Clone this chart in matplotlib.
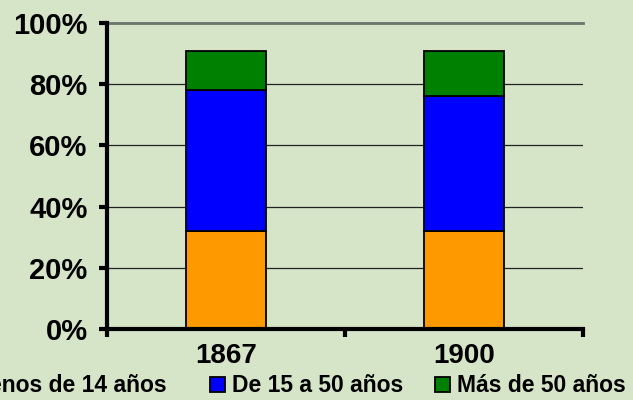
import matplotlib
matplotlib.use("Agg")
import matplotlib.pyplot as plt
from matplotlib.patches import Patch
import numpy as np

categories = ["1867", "1900"]
series_names = ["Menos de 14 años", "De 15 a 50 años", "Más de 50 años"]
menos_14 = [32, 32]
de_15_50 = [46, 44]
mas_50 = [13, 15]
y_ticks = [0, 20, 40, 60, 80, 100]
y_tick_labels = ["0%", "20%", "40%", "60%", "80%", "100%"]

colors = ["#FF9900", "#0000FF", "#008000"]
bg = "#D6E4C8"

plt.rcParams['font.family'] = ['Liberation Sans', 'DejaVu Sans']
plt.rcParams['font.weight'] = 'bold'

fig = plt.figure(figsize=(6.33, 4.0), dpi=100, facecolor=bg)
ax = fig.add_axes([107/633, 1-329/400, (583-107)/633, (329-23)/400])
ax.set_facecolor(bg)

x = np.arange(len(categories))
width = 0.336
bottom = np.zeros(len(categories))
for vals, name, c in zip([menos_14, de_15_50, mas_50], series_names, colors):
    ax.bar(x, vals, width, bottom=bottom, color=c, edgecolor='black',
           linewidth=1.3, label=name, zorder=3)
    bottom = bottom + np.array(vals)

ax.set_xlim(-0.5, 1.5)
ax.set_ylim(0, 100)

# gridlines
for t in y_ticks[1:-1]:
    ax.axhline(t, color='#222222', lw=0.9, zorder=1)
ax.axhline(100, color='#6B756B', lw=2.0, zorder=1, clip_on=False)

for s in ['top', 'right']:
    ax.spines[s].set_visible(False)
ax.spines['left'].set_linewidth(3)
ax.spines['bottom'].set_linewidth(3)
ax.spines['left'].set_zorder(4)
ax.spines['bottom'].set_zorder(4)

ax.set_yticks(y_ticks)
ax.set_yticklabels(y_tick_labels, fontsize=21, fontweight='bold')
ax.tick_params(axis='y', direction='out', length=6, width=3, pad=8)

ax.set_xticks([-0.5, 0.5, 1.5])
ax.set_xticklabels([])
ax.tick_params(axis='x', which='major', direction='out', length=6, width=3)
ax.set_xticks(x, minor=True)
ax.set_xticklabels(categories, minor=True, fontsize=20, fontweight='bold')
ax.tick_params(axis='x', which='minor', length=0, pad=10)

# legend entries placed individually (reference spacing is uneven)
leg_y = 1 - 386/400
anchors = [(167/633, 'center right'), (210/633, 'center left'), (435/633, 'center left')]
legends = []
for name, c, (ax_x, loc) in zip(series_names, colors, anchors):
    h = Patch(facecolor=c, edgecolor='black', linewidth=1.3)
    lg = fig.legend([h], [name], loc=loc, bbox_to_anchor=(ax_x, leg_y),
                    frameon=False, prop={'weight': 'bold', 'size': 16.5},
                    handlelength=0.65, handleheight=0.65, handletextpad=0.3,
                    borderpad=0, borderaxespad=0)
    legends.append(lg)

fig.savefig("out.png", dpi=100, facecolor=bg)
